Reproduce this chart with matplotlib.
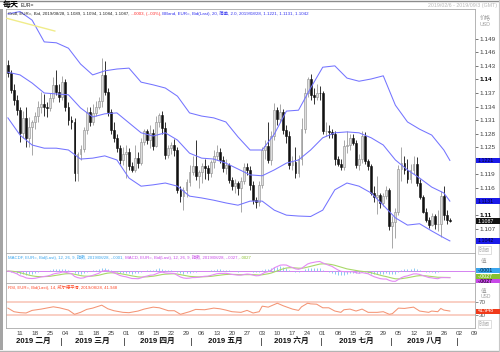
import matplotlib
matplotlib.use('Agg')
import matplotlib.pyplot as plt
import matplotlib.transforms as mtransforms
from matplotlib.patches import Rectangle
import numpy as np
import pandas as pd

plt.rcParams['font.family'] = ['Liberation Sans', 'Noto Sans CJK SC']

# EUR= daily bars, 2019-02-05 .. 2019-08-28 (business days)
opens = [1.1432, 1.1414, 1.1377, 1.1354, 1.1332, 1.1281, 1.1315, 1.1270, 1.1295, 1.1306,
         1.1320, 1.1340, 1.1345, 1.1338, 1.1336, 1.1358, 1.1388, 1.1372, 1.1362, 1.1395,
         1.1340, 1.1310, 1.1305, 1.1194, 1.1235, 1.1247, 1.1288, 1.1328, 1.1305, 1.1326,
         1.1340, 1.1353, 1.1410, 1.1372, 1.1328, 1.1288, 1.1270, 1.1248, 1.1222, 1.1236,
         1.1240, 1.1208, 1.1200, 1.1226, 1.1215, 1.1262, 1.1286, 1.1266, 1.1281, 1.1253,
         1.1306, 1.1321, 1.1292, 1.1233, 1.1248, 1.1255, 1.1244, 1.1156, 1.1142, 1.1156,
         1.1173, 1.1195, 1.1208, 1.1186, 1.1195, 1.1208, 1.1204, 1.1193, 1.1217, 1.1231,
         1.1239, 1.1222, 1.1204, 1.1211, 1.1178, 1.1164, 1.1171, 1.1160, 1.1175, 1.1206,
         1.1200, 1.1167, 1.1133, 1.1128, 1.1166, 1.1243, 1.1252, 1.1222, 1.1276, 1.1333,
         1.1313, 1.1327, 1.1288, 1.1275, 1.1210, 1.1218, 1.1193, 1.1225, 1.1291, 1.1370,
         1.1400, 1.1366, 1.1362, 1.1371, 1.1370, 1.1286, 1.1287, 1.1283, 1.1279, 1.1225,
         1.1214, 1.1207, 1.1252, 1.1254, 1.1270, 1.1260, 1.1210, 1.1225, 1.1275, 1.1219,
         1.1209, 1.1150, 1.1140, 1.1145, 1.1127, 1.1143, 1.1155, 1.1075, 1.1085, 1.1108,
         1.1203, 1.1215, 1.1200, 1.1180, 1.1200, 1.1214, 1.1171, 1.1140, 1.1108, 1.1090,
         1.1078, 1.1097, 1.1080, 1.1081, 1.1143, 1.1100, 1.1089]
highs = [1.1443, 1.1420, 1.1389, 1.1365, 1.1340, 1.1330, 1.1340, 1.1318, 1.1310, 1.1328,
         1.1352, 1.1372, 1.1368, 1.1350, 1.1370, 1.1405, 1.1420, 1.1390, 1.1408, 1.1400,
         1.1350, 1.1320, 1.1315, 1.1240, 1.1255, 1.1295, 1.1340, 1.1338, 1.1345, 1.1352,
         1.1362, 1.1448, 1.1440, 1.1380, 1.1335, 1.1305, 1.1280, 1.1255, 1.1250, 1.1255,
         1.1248, 1.1218, 1.1255, 1.1240, 1.1270, 1.1290, 1.1290, 1.1300, 1.1290, 1.1320,
         1.1325, 1.1330, 1.1305, 1.1255, 1.1262, 1.1268, 1.1250, 1.1165, 1.1162, 1.1180,
         1.1210, 1.1230, 1.1265, 1.1200, 1.1215, 1.1225, 1.1210, 1.1222, 1.1245, 1.1255,
         1.1248, 1.1230, 1.1225, 1.1215, 1.1185, 1.1180, 1.1175, 1.1185, 1.1215, 1.1215,
         1.1208, 1.1175, 1.1140, 1.1175, 1.1250, 1.1265, 1.1305, 1.1285, 1.1348, 1.1338,
         1.1345, 1.1335, 1.1300, 1.1285, 1.1230, 1.1250, 1.1232, 1.1315, 1.1380, 1.1405,
         1.1412, 1.1380, 1.1390, 1.1385, 1.1375, 1.1305, 1.1300, 1.1290, 1.1285, 1.1230,
         1.1225, 1.1265, 1.1285, 1.1280, 1.1280, 1.1265, 1.1235, 1.1285, 1.1283, 1.1225,
         1.1212, 1.1165, 1.1187, 1.1150, 1.1150, 1.1165, 1.1160, 1.1099, 1.1115, 1.1211,
         1.1250, 1.1230, 1.1225, 1.1212, 1.1230, 1.1228, 1.1180, 1.1145, 1.1115, 1.1095,
         1.1104, 1.1103, 1.1112, 1.1153, 1.1165, 1.1112, 1.1094]
lows = [1.1405, 1.1370, 1.1343, 1.1322, 1.1262, 1.1270, 1.1250, 1.1250, 1.1233, 1.1290,
        1.1305, 1.1325, 1.1320, 1.1318, 1.1330, 1.1350, 1.1365, 1.1350, 1.1355, 1.1330,
        1.1300, 1.1290, 1.1176, 1.1175, 1.1222, 1.1240, 1.1280, 1.1298, 1.1300, 1.1320,
        1.1335, 1.1340, 1.1365, 1.1320, 1.1280, 1.1262, 1.1240, 1.1212, 1.1210, 1.1183,
        1.1200, 1.1195, 1.1195, 1.1205, 1.1210, 1.1255, 1.1258, 1.1248, 1.1245, 1.1250,
        1.1295, 1.1280, 1.1225, 1.1226, 1.1236, 1.1230, 1.1150, 1.1130, 1.1112, 1.1140,
        1.1165, 1.1188, 1.1178, 1.1160, 1.1170, 1.1180, 1.1178, 1.1185, 1.1205, 1.1222,
        1.1215, 1.1195, 1.1190, 1.1170, 1.1155, 1.1148, 1.1145, 1.1107, 1.1168, 1.1188,
        1.1155, 1.1125, 1.1116, 1.1120, 1.1160, 1.1225, 1.1215, 1.1210, 1.1265, 1.1300,
        1.1305, 1.1280, 1.1260, 1.1202, 1.1200, 1.1181, 1.1185, 1.1210, 1.1282, 1.1362,
        1.1355, 1.1345, 1.1355, 1.1355, 1.1280, 1.1275, 1.1270, 1.1270, 1.1210, 1.1208,
        1.1200, 1.1200, 1.1238, 1.1245, 1.1255, 1.1205, 1.1200, 1.1215, 1.1212, 1.1200,
        1.1145, 1.1128, 1.1102, 1.1115, 1.1120, 1.1135, 1.1068, 1.1027, 1.1050, 1.1100,
        1.1175, 1.1192, 1.1170, 1.1170, 1.1190, 1.1165, 1.1135, 1.1105, 1.1085, 1.1072,
        1.1075, 1.1070, 1.1066, 1.1052, 1.1090, 1.1080, 1.1084]
closes = [1.1414, 1.1377, 1.1354, 1.1332, 1.1281, 1.1315, 1.1270, 1.1295, 1.1306, 1.1320,
          1.1340, 1.1345, 1.1338, 1.1336, 1.1358, 1.1388, 1.1372, 1.1362, 1.1395, 1.1340,
          1.1310, 1.1305, 1.1194, 1.1235, 1.1247, 1.1288, 1.1328, 1.1305, 1.1326, 1.1340,
          1.1353, 1.1410, 1.1372, 1.1328, 1.1288, 1.1270, 1.1248, 1.1222, 1.1236, 1.1240,
          1.1208, 1.1200, 1.1226, 1.1215, 1.1262, 1.1286, 1.1266, 1.1281, 1.1253, 1.1306,
          1.1321, 1.1292, 1.1233, 1.1248, 1.1255, 1.1244, 1.1156, 1.1142, 1.1156, 1.1173,
          1.1195, 1.1208, 1.1186, 1.1195, 1.1208, 1.1204, 1.1193, 1.1217, 1.1231, 1.1239,
          1.1222, 1.1204, 1.1211, 1.1178, 1.1164, 1.1171, 1.1160, 1.1175, 1.1206, 1.1200,
          1.1167, 1.1133, 1.1128, 1.1166, 1.1243, 1.1252, 1.1222, 1.1276, 1.1333, 1.1313,
          1.1327, 1.1288, 1.1275, 1.1210, 1.1218, 1.1193, 1.1225, 1.1291, 1.1370, 1.1400,
          1.1366, 1.1362, 1.1371, 1.1370, 1.1286, 1.1287, 1.1283, 1.1279, 1.1225, 1.1214,
          1.1207, 1.1252, 1.1254, 1.1270, 1.1260, 1.1210, 1.1225, 1.1275, 1.1219, 1.1209,
          1.1150, 1.1140, 1.1145, 1.1127, 1.1143, 1.1155, 1.1075, 1.1085, 1.1108, 1.1203,
          1.1215, 1.1200, 1.1180, 1.1200, 1.1214, 1.1171, 1.1140, 1.1108, 1.1090, 1.1078,
          1.1097, 1.1080, 1.1081, 1.1143, 1.1100, 1.1090, 1.1087]

# Bollinger (20, 2.0) at every 4th bar
band_idx = [0, 4, 8, 12, 16, 20, 24, 28, 32, 36, 40, 44, 48, 52, 56, 60, 64, 68, 72,
            76, 80, 84, 88, 92, 96, 100, 104, 108, 112, 116, 120, 124, 128, 132, 136, 140, 144, 146]
bb_upper = [1.1545, 1.1550, 1.1531, 1.1483, 1.1481, 1.1469, 1.1434, 1.1410, 1.1419, 1.1423,
            1.1425, 1.1394, 1.1388, 1.1381, 1.1363, 1.1326, 1.1319, 1.1315, 1.1306, 1.1273,
            1.1244, 1.1244, 1.1279, 1.1330, 1.1332, 1.1381, 1.1427, 1.1430, 1.1403, 1.1396,
            1.1401, 1.1408, 1.1343, 1.1306, 1.1290, 1.1277, 1.1244, 1.1221]
bb_mid = [1.1416, 1.1410, 1.1392, 1.1370, 1.1368, 1.1366, 1.1337, 1.1317, 1.1324, 1.1326,
          1.1304, 1.1282, 1.1275, 1.1282, 1.1266, 1.1237, 1.1226, 1.1224, 1.1215, 1.1202,
          1.1189, 1.1187, 1.1200, 1.1215, 1.1222, 1.1244, 1.1271, 1.1282, 1.1284, 1.1282,
          1.1271, 1.1255, 1.1222, 1.1200, 1.1182, 1.1162, 1.1149, 1.1131]
bb_lower = [1.1315, 1.1277, 1.1255, 1.1248, 1.1248, 1.1244, 1.1224, 1.1226, 1.1231, 1.1222,
            1.1182, 1.1164, 1.1167, 1.1171, 1.1164, 1.1142, 1.1138, 1.1133, 1.1127, 1.1122,
            1.1131, 1.1131, 1.1111, 1.1100, 1.1098, 1.1097, 1.1111, 1.1156, 1.1171, 1.1164,
            1.1149, 1.1122, 1.1094, 1.1078, 1.1081, 1.1065, 1.1050, 1.1043]

trend_idx = [-0.3, 15.5]
trend_price = [1.1535, 1.1507]

rsi_idx = [0, 2, 4, 6, 8, 11, 15, 17, 20, 22, 24, 26, 28, 31, 33, 35, 38, 40, 43, 45, 48, 50,
           53, 55, 57, 60, 62, 65, 68, 70, 72, 74, 77, 79, 81, 83, 84, 86, 89, 91, 94, 96, 97,
           99, 100, 102, 104, 106, 108, 110, 111, 113, 115, 117, 119, 122, 124, 126, 127, 129,
           131, 134, 136, 139, 140, 142, 143, 144, 146]
rsi_vals = [51, 40, 37, 36, 44, 48, 55, 52, 45, 32, 38, 47, 51, 60, 49, 43, 38, 37, 42, 48, 54, 52,
            43, 43, 32, 40, 47, 46, 51, 49, 45, 40, 38, 44, 36, 40, 57, 54, 66, 58, 48, 44, 55,
            66, 64, 63, 52, 52, 42, 38, 46, 48, 42, 48, 38, 38, 40, 32, 34, 51,
            50, 54, 42, 38, 42, 40, 50, 45, 42]

month_names = ['二月', '三月', '四月', '五月', '六月', '七月', '八月']

W, H = 500, 352
fig = plt.figure(figsize=(5.0, 3.52), dpi=100)


def frect(x0, y0, x1, y1):
    return [x0 / W, 1 - y1 / H, (x1 - x0) / W, (y1 - y0) / H]


ax = fig.add_axes(frect(6, 9, 475, 253))
ax_macd = fig.add_axes(frect(6, 253, 475, 283), sharex=ax)
ax_rsi = fig.add_axes(frect(6, 283, 475, 328), sharex=ax)

grey = '#a8a8a8'
for a in (ax, ax_macd, ax_rsi):
    for s in a.spines.values():
        s.set_color(grey)
        s.set_linewidth(0.6)
    a.yaxis.tick_right()
    a.tick_params(axis='x', bottom=False, labelbottom=False)

# --- candles
o = np.array(opens)
c = np.array(closes)
hi = np.array(highs)
lo = np.array(lows)
idx = np.arange(len(c))
up = c >= o
ax.vlines(idx[up], lo[up], hi[up], color='#9a9a9a', lw=0.6, zorder=2)
ax.vlines(idx[~up], lo[~up], hi[~up], color='#111111', lw=0.6, zorder=2)
body = np.maximum(np.abs(c - o), 0.00008)
bot = np.minimum(o, c)
ax.bar(idx[up], body[up], bottom=bot[up], width=0.62, color='#dedede',
       edgecolor='#8c8c8c', linewidth=0.4, zorder=3)
ax.bar(idx[~up], body[~up], bottom=bot[~up], width=0.62, color='#111111',
       edgecolor='#111111', linewidth=0.4, zorder=3)

bcol = '#7474ff'
ax.plot(band_idx, bb_upper, color=bcol, lw=0.75, zorder=4)
ax.plot(band_idx, bb_mid, color=bcol, lw=0.75, zorder=4)
ax.plot(band_idx, bb_lower, color=bcol, lw=0.75, zorder=4)
ax.plot(trend_idx, trend_price, color='#f0ec8a', lw=1.0, zorder=4)

ax.set_xlim(-0.63, 154.3)
ax.set_ylim(1.10163, 1.15557)
# 1.122 / 1.113 / 1.104 sit under the value tags on the right, so they are not shown
yt = [1.107, 1.110, 1.116, 1.119, 1.125, 1.128, 1.131, 1.134, 1.137, 1.140,
      1.143, 1.146, 1.149]
ax.set_yticks(yt)
labs = [f'{v:.3f}'.rstrip('0') for v in yt]
ax.set_yticklabels(labs)
ax.tick_params(axis='y', length=2, width=0.5, pad=1, labelsize=4.6, colors='#404040')
for t, s in zip(ax.get_yticklabels(), labs):
    if len(s) < 5:
        t.set_fontweight('bold')
        t.set_color('#000000')

# --- MACD (12, 26, 9) from closes
cs = pd.Series(closes)
macd = cs.ewm(span=12, adjust=False).mean() - cs.ewm(span=26, adjust=False).mean()
signal = macd.ewm(span=9, adjust=False).mean()
hist = macd - signal
ax_macd.axhline(0, color='#d482f0', lw=0.7)
ax_macd.vlines(idx, 0, hist, color='#8ccaf2', lw=0.7)
ax_macd.plot(idx, signal, color='#a8d868', lw=0.8)
ax_macd.plot(idx, macd, color='#e48af4', lw=0.8)
ax_macd.set_ylim(-0.0050, 0.0075)
ax_macd.set_yticks([])

# --- RSI (14)
ax_rsi.axhline(70, color='#f8c2b4', lw=1.1)
ax_rsi.axhline(30, color='#f8c2b4', lw=1.1)
ax_rsi.plot(rsi_idx, rsi_vals, color='#f49474', lw=0.75)
ax_rsi.set_ylim(-10, 128)
ax_rsi.set_yticks([30, 70])
ax_rsi.tick_params(axis='y', length=2, width=0.5, pad=1, labelsize=4.6, colors='#606060')

axis_days = pd.bdate_range('2019-02-05', '2019-09-09')
mondays = [i for i, d in enumerate(axis_days) if d.weekday() == 0]
ax_rsi.tick_params(axis='x', bottom=True, labelbottom=True, length=0, pad=2.2,
                   labelsize=4.6, colors='#404040')
ax_rsi.set_xticks(mondays)
ax_rsi.set_xticklabels([axis_days[i].strftime('%d') for i in mondays])

blend = mtransforms.blended_transform_factory(ax_rsi.transData, fig.transFigure)
months = axis_days.month
for m, name in zip(range(2, 9), month_names):
    js = np.where(months == m)[0]
    left = max(js[0] - 0.5, -0.63)
    right = js[-1] + 0.5
    ax_rsi.text((left + right) / 2, 1 - 341.5 / H, '2019 ' + name, transform=blend,
                ha='center', va='center', fontsize=5.6, fontweight='bold', color='#111111')
for m in range(3, 10):
    b = np.where(months == m)[0][0] - 0.5
    ax_rsi.plot([b, b], [1 - 338 / H, 1 - 345 / H], transform=blend, clip_on=False,
                color='#555555', lw=0.7)


# --- text helpers (pixel coords, top-left origin)
def ftext(x, y, s, **kw):
    kw.setdefault('va', 'center')
    kw.setdefault('ha', 'left')
    return fig.text(x / W, 1 - y / H, s, **kw)


def chain(axh, x, y, parts, size):
    prev = None
    for s, col in parts:
        if prev is None:
            prev = axh.annotate(s, xy=(x / W, 1 - y / H), xycoords='figure fraction',
                                va='center', ha='left', fontsize=size, color=col,
                                annotation_clip=False, zorder=6)
        else:
            prev = axh.annotate(s, xy=(1, 0), xycoords=prev, va='bottom', ha='left',
                                fontsize=size, color=col, annotation_clip=False, zorder=6)


def tag(ypix, label, fc, tc, h=5.6):
    fig.add_artist(Rectangle((476 / W, 1 - (ypix + h / 2) / H), 24 / W, h / H,
                             transform=fig.transFigure, facecolor=fc, edgecolor='none',
                             zorder=5))
    ftext(477.5, ypix, label, fontsize=3.8, color=tc, zorder=6)


def ypix_of(a, v):
    return H - a.transData.transform((0, v))[1]


ftext(3, 5, '每天', fontsize=5.8, fontweight='bold', color='#000000')
ftext(21, 5.5, 'EUR=', fontsize=3.6, color='#222222')
ftext(497, 5, '2019/02/6 - 2019/09/3 (GMT)', fontsize=3.8, color='#b8b8b8', ha='right')
ftext(480, 17, '价格', fontsize=4, color='#a0a0a0')
ftext(480, 24, 'USD', fontsize=3.8, color='#a0a0a0')

chain(ax, 8, 13.5, [('Cndl, EUR=, Bid, 2019/08/28, 1.1089, 1.1094, 1.1084, 1.1087,', '#222222'),
                    (' -.0003, (-.03%),', '#ff2a2a'),
                    (' BBand, EUR=, Bid(Last), 20, 简单, 2.0, 2019/08/28, 1.1221, 1.1131, 1.1042',
                     '#3030f0')], 3.2)
chain(ax_macd, 8, 257.5,
      [('MACDF, EUR=, Bid(Last), 12, 26, 9, 指数, 2019/08/28, -.0001,', '#3aa6ee'),
       (' MACD, EUR=, Bid(Last), 12, 26, 9, 指数, 2019/08/28, -.0027,', '#c848e8'),
       (' -.0027', '#88c030')], 3.1)
chain(ax_rsi, 8, 287.5, [('RSI, EUR=, Bid(Last), 14, 威尔德平滑, 2019/08/28, 41.948', '#ff4a2a')], 3.1)

tag(ypix_of(ax, bb_upper[-1]), '1.1221', '#1a1ae8', '#000033')
tag(ypix_of(ax, bb_mid[-1]), '1.1131', '#1a1ae8', '#000033')
tag(ypix_of(ax, closes[-1]), '1.1087', '#111111', '#ffffff')
tag(ypix_of(ax, bb_lower[-1]), '1.1042', '#1a1ae8', '#000033')

ftext(479, 250, '时间', fontsize=4, color='#b0b0b0',
      bbox=dict(boxstyle='square,pad=0.25', fc='white', ec='#d0d0d0', lw=0.5))
ftext(481, 261, '值', fontsize=4, color='#a0a0a0')
tag(270, '-.0001', '#3aa6ee', '#002040', h=5)
tag(276.5, '-.0027', '#88c030', '#ffffff', h=5)
tag(281.2, '-.0027', '#c848e8', '#000000', h=3.6)

ftext(481, 291, '值', fontsize=4, color='#a0a0a0')
ftext(481, 297, 'USD', fontsize=3.6, color='#a0a0a0')
tag(311, '41.948', '#f03a1a', '#ffffff', h=5)
ftext(479, 324, '时间', fontsize=4, color='#b0b0b0',
      bbox=dict(boxstyle='square,pad=0.25', fc='white', ec='#d0d0d0', lw=0.5))

# window frame
fig.add_artist(Rectangle((0, 1 - 350 / H), 2.6 / W, 341 / H, transform=fig.transFigure,
                         facecolor='#a4a4a4', edgecolor='none'))
fig.add_artist(plt.Line2D([0, 1], [1 - 0.6 / H, 1 - 0.6 / H], transform=fig.transFigure,
                          color='#8c8c8c', lw=1.0))
fig.add_artist(plt.Line2D([0, 1], [1 - 350.5 / H, 1 - 350.5 / H], transform=fig.transFigure,
                          color='#b4b4b4', lw=1.0))
fig.add_artist(plt.Line2D([1 - 0.8 / W, 1 - 0.8 / W], [0, 1], transform=fig.transFigure,
                          color='#c8c8c8', lw=0.8))

fig.savefig('out.png', dpi=100)
